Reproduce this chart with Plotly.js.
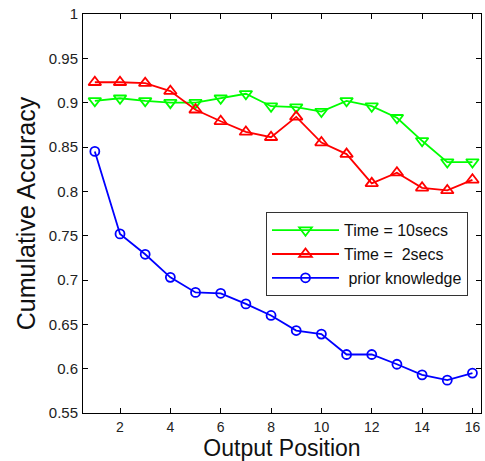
<!DOCTYPE html>
<html><head><meta charset="utf-8">
<script src="https://cdn.plot.ly/plotly-3.0.1.min.js"></script>
<style>html,body{margin:0;padding:0;background:#fff}</style>
</head><body>
<div id="chart" style="width:485px;height:461px"></div>
<script>
const positions = [1,2,3,4,5,6,7,8,9,10,11,12,13,14,15,16];
const time10 = [0.902,0.905,0.902,0.900,0.900,0.905,0.910,0.896,0.895,0.890,0.902,0.896,0.883,0.857,0.833,0.833];
const time2 = [0.923,0.923,0.922,0.913,0.892,0.879,0.867,0.861,0.884,0.855,0.842,0.809,0.821,0.804,0.801,0.813];
const prior = [0.845,0.752,0.729,0.703,0.686,0.685,0.673,0.660,0.643,0.639,0.616,0.616,0.605,0.593,0.587,0.595];
const seriesNames = ["Time = 10secs","Time =\u00a0\u00a02secs","\u00a0prior knowledge"];
const xTicks = [2,4,6,8,10,12,14,16];
const yTicks = [0.55,0.6,0.65,0.7,0.75,0.8,0.85,0.9,0.95,1];
const yTickText = ["0.55","0.6","0.65","0.7","0.75","0.8","0.85","0.9","0.95","1"];

const mk = (y, name, color, symbol, size) => ({
  x: positions, y: y, name: name, type: 'scatter', mode: 'lines+markers',
  line: {color: color, width: 1.8},
  marker: {symbol: symbol, size: size, color: color, line: {color: color, width: 1.8}}
});
const data = [
  mk(time10, seriesNames[0], '#00ff00', 'triangle-down-open', 11),
  mk(time2, seriesNames[1], '#ff0000', 'triangle-up-open', 11),
  mk(prior, seriesNames[2], '#0000ff', 'circle-open', 9)
];
const axisCommon = {
  showgrid: false, zeroline: false, showline: true, linecolor: '#000', linewidth: 1,
  mirror: 'ticks', ticks: 'inside', ticklen: 5, tickcolor: '#000'
};
const layout = {
  width: 485, height: 461,
  margin: {l: 83, r: 4, t: 14, b: 48},
  paper_bgcolor: '#fff', plot_bgcolor: '#fff',
  font: {family: 'Liberation Sans, Arial, sans-serif', color: '#000'},
  showlegend: true,
  xaxis: Object.assign({}, axisCommon, {
    range: [0.53, 16.34], tickvals: xTicks, ticklabelstandoff: 1,
    tickfont: {family: 'Liberation Sans, Arial, sans-serif', size: 14, color: '#222'},
    title: {text: 'Output Position', font: {size: 23, color: '#111'}, standoff: 0}
  }),
  yaxis: Object.assign({}, axisCommon, {
    range: [0.55, 1], tickvals: yTicks, ticktext: yTickText, ticklabelstandoff: 1,
    tickfont: {family: 'Liberation Sans, Arial, sans-serif', size: 15, color: '#222'},
    title: {text: 'Cumulative Accuracy', font: {size: 25, color: '#111'}, standoff: 6}
  }),
  legend: {
    x: 0.4598, y: 0.503, xanchor: 'left', yanchor: 'top',
    bgcolor: '#fff', bordercolor: '#333', borderwidth: 1,
    font: {size: 16, color: '#111'}, itemwidth: 67, tracegroupgap: 0
  }
};
Plotly.newPlot('chart', data, layout, {displayModeBar: false, staticPlot: true});
</script>
</body></html>
